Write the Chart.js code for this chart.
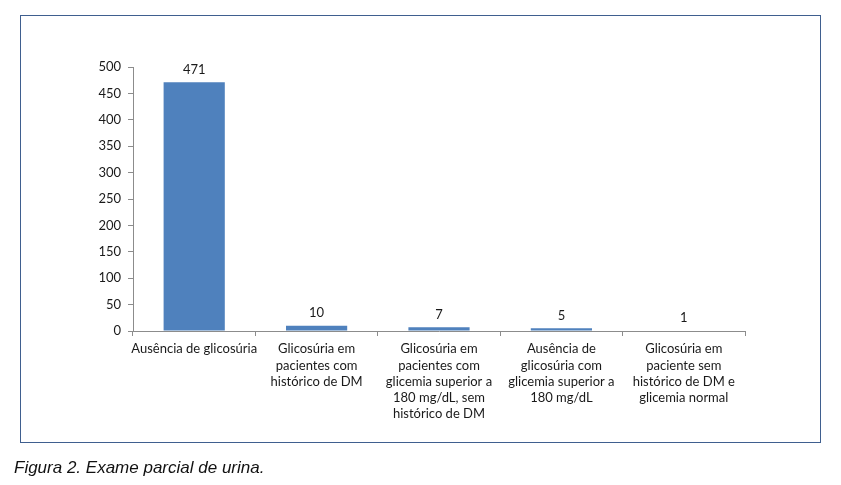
<!DOCTYPE html>
<html>
<head>
<meta charset="utf-8">
<script src="https://cdn.jsdelivr.net/npm/chart.js@4/dist/chart.umd.min.js"></script>
<style>
  html, body { margin: 0; padding: 0; background: #ffffff; }
  body { width: 841px; height: 485px; position: relative; overflow: hidden; }
  #frame { position: absolute; left: 20px; top: 15px; width: 799px; height: 426px; border: 1px solid #3F5F8F; box-sizing: content-box; }
  #c { position: absolute; left: 0; top: 0; }
  #caption { position: absolute; left: 14px; top: 458px; font-family: "Liberation Sans", Arial, sans-serif; font-style: italic; font-size: 17px; color: #111; white-space: nowrap; }
</style>
</head>
<body>
<div id="frame"></div>
<canvas id="c" width="841" height="485"></canvas>
<div id="caption">Figura 2. Exame parcial de urina.</div>
<script>
const categories = [
  ["Ausência de glicosúria"],
  ["Glicosúria em", "pacientes com", "histórico de DM"],
  ["Glicosúria em", "pacientes com", "glicemia superior a", "180 mg/dL, sem", "histórico de DM"],
  ["Ausência de", "glicosúria com", "glicemia superior a", "180 mg/dL"],
  ["Glicosúria em", "paciente sem", "histórico de DM e", "glicemia normal"]
];
const values = [471, 10, 7, 5, 1];
const yTicks = { min: 0, max: 500, step: 50 };

const textColor = "#1a1a1a";
const axisColor = "#8C8C8C";
const fontFamily = "Lato, 'Open Sans', sans-serif";

const valueLabels = {
  id: "valueLabels",
  afterDatasetsDraw(chart) {
    const ctx = chart.ctx;
    const meta = chart.getDatasetMeta(0);
    ctx.save();
    ctx.fillStyle = textColor;
    ctx.font = "13px " + fontFamily;
    ctx.textAlign = "center";
    ctx.textBaseline = "bottom";
    meta.data.forEach((bar, i) => {
      ctx.fillText(String(values[i]), bar.x, bar.y - 6);
    });
    ctx.restore();
  }
};

new Chart(document.getElementById("c"), {
  type: "bar",
  data: {
    labels: categories,
    datasets: [{
      data: values,
      backgroundColor: "#4F81BD",
      borderWidth: 0,
      categoryPercentage: 1.0,
      barPercentage: 0.5
    }]
  },
  options: {
    responsive: false,
    animation: false,
    devicePixelRatio: 1,
    layout: { padding: { left: 0, right: 96, top: 67, bottom: 0 } },
    plugins: { legend: { display: false }, tooltip: { enabled: false } },
    scales: {
      x: {
        offset: true,
        grid: { offset: true, drawOnChartArea: false, drawTicks: true, tickLength: 5, color: axisColor, lineWidth: 1 },
        border: { display: true, color: axisColor, width: 1 },
        ticks: {
          color: textColor,
          font: { family: fontFamily, size: 13, lineHeight: 1.25 },
          padding: 5,
          maxRotation: 0,
          autoSkip: false
        },
        afterFit(scale) { scale.height = 154; }
      },
      y: {
        min: yTicks.min,
        max: yTicks.max,
        grid: { drawOnChartArea: false, drawTicks: true, tickLength: 5, color: axisColor },
        border: { display: true, color: axisColor, width: 1 },
        ticks: {
          stepSize: yTicks.step,
          color: textColor,
          font: { family: fontFamily, size: 13 },
          padding: 7
        },
        afterFit(scale) { scale.width = 133; }
      }
    }
  },
  plugins: [valueLabels]
});
</script>
</body>
</html>
